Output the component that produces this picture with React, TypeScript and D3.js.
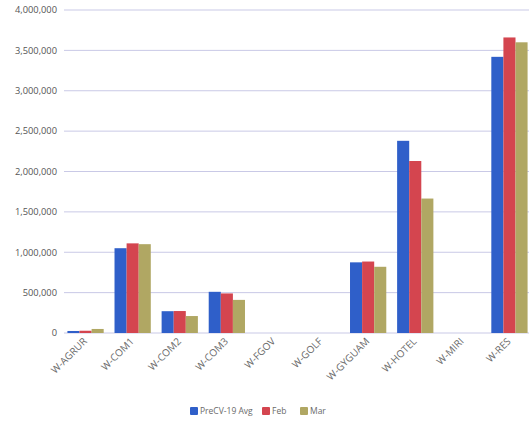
import React from "react";
import * as d3 from "d3";

const categories = ["W-AGRUR", "W-COM1", "W-COM2", "W-COM3", "W-FGOV", "W-GOLF", "W-GYGUAM", "W-HOTEL", "W-MIRI", "W-RES"];
const seriesNames = ["PreCV-19 Avg", "Feb", "Mar"];
const preCvAvg = [25000, 1050000, 270000, 510000, 0, 0, 875000, 2380000, 0, 3420000];
const feb = [28000, 1110000, 272000, 490000, 0, 0, 885000, 2130000, 0, 3660000];
const mar = [50000, 1100000, 210000, 410000, 0, 0, 820000, 1665000, 0, 3600000];
const yTicks = [0, 500000, 1000000, 1500000, 2000000, 2500000, 3000000, 3500000, 4000000];
const colors = ["#2f5fc9", "#d4454f", "#b0a763"];

const W = 529;
const H = 427;
const margin = { left: 62, right: -4, top: 10, bottom: 94 };

export default function App() {
  const series = [preCvAvg, feb, mar];
  const x = d3
    .scaleBand<string>()
    .domain(categories)
    .range([margin.left, W - margin.right])
    .paddingInner(0.23)
    .paddingOuter(0.115);
  const xs = d3.scaleBand<number>().domain([0, 1, 2]).range([0, x.bandwidth()]);
  const y = d3.scaleLinear().domain([0, 4000000]).range([H - margin.bottom, margin.top]);
  const fmt = d3.format(",");
  const font = "'Open Sans', 'Liberation Sans', sans-serif";

  const legendItems = [
    { x: 190, w: 58 },
    { x: 262, w: 18 },
    { x: 300, w: 18 },
  ];

  return (
    <svg
      width={W}
      height={H}
      style={{ position: "absolute", left: 0, top: 0, background: "#fff" }}
      fontFamily={font}
    >
      {yTicks.map((t) => (
        <g key={t}>
          <line x1={64} x2={W} y1={y(t)} y2={y(t)} stroke="#c9c9e6" strokeWidth={1} />
          <text x={57} y={y(t)} dy="0.35em" textAnchor="end" fontSize={9.3} fill="#555">
            {fmt(t)}
          </text>
        </g>
      ))}
      {categories.map((c, i) => (
        <g key={c} transform={`translate(${x(c)},0)`}>
          {series.map((s, k) => (
            <rect
              key={k}
              x={xs(k)}
              width={xs.bandwidth()}
              y={y(s[i])}
              height={y(0) - y(s[i])}
              fill={colors[k]}
            />
          ))}
        </g>
      ))}
      {categories.map((c) => {
        const cx = (x(c) as number) + x.bandwidth() / 2 + 2;
        return (
          <text
            key={c}
            transform={`translate(${cx},${y(0) + 9}) rotate(-45)`}
            textAnchor="end"
            fontSize={10}
            fill="#6a6a6a"
          >
            {c}
          </text>
        );
      })}
      {seriesNames.map((n, k) => (
        <g key={n} transform={`translate(${legendItems[k].x},407)`}>
          <rect width={8} height={8} rx={1} fill={colors[k]} />
          <text x={10} y={4} dy="0.35em" fontSize={8.5} fill="#6a6a6a">
            {n}
          </text>
        </g>
      ))}
    </svg>
  );
}
